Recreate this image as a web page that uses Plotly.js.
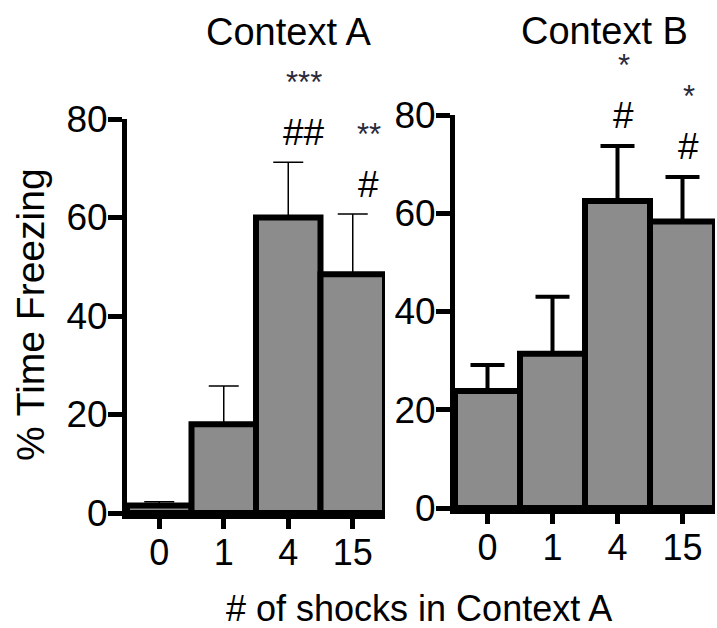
<!DOCTYPE html>
<html>
<head>
<meta charset="utf-8">
<script src="https://cdn.plot.ly/plotly-3.0.1.min.js"></script>
<style>html,body{margin:0;padding:0;background:#fff;}#chart{width:717px;height:628px;}</style>
</head>
<body>
<div id="chart"></div>
<script>
const categories = ['0', '1', '4', '15'];
const contextA = [1.5, 18, 60, 48.5];
const contextAErr = [0.8, 7.8, 11.2, 12.2];
const contextB = [23.8, 31.4, 62.5, 58.3];
const contextBErr = [5.3, 11.6, 11.2, 9.1];
const starsA = ['', '', '***', '**'];
const hashA = ['', '', '##', '#'];
const starsB = ['', '', '*', '*'];
const hashB = ['', '', '#', '#'];

const W = 717, H = 628;
const FONT = 'Liberation Sans, Arial, sans-serif';
const px = x => x / W;
const py = y => 1 - y / H;

function barTrace(vals, errs, xa, ya, thick, capw) {
  return {
    type: 'bar', x: categories, y: vals, xaxis: xa, yaxis: ya,
    width: 1, cliponaxis: false,
    marker: {color: '#8c8c8c', line: {color: '#000', width: 6}},
    error_y: {type: 'data', symmetric: false, array: errs,
      arrayminus: errs.map(() => 0), color: '#000', thickness: thick, width: capw},
    showlegend: false, hoverinfo: 'x+y'
  };
}

const data = [
  barTrace(contextA, contextAErr, 'x', 'y', 1.5, 15),
  barTrace(contextB, contextBErr, 'x2', 'y2', 4, 17)
];

const annotations = [];
function sigLabels(stars, hashes, vals, errs, xa, ya, xshift) {
  categories.forEach((c, i) => {
    const top = vals[i] + errs[i];
    if (hashes[i]) annotations.push({x: i, y: top, xref: xa, yref: ya, text: hashes[i],
      showarrow: false, xanchor: 'center', yanchor: 'middle', xshift: xshift, yshift: 30,
      font: {family: FONT, size: 37, color: '#000'}});
    if (stars[i]) annotations.push({x: i, y: top, xref: xa, yref: ya, text: stars[i],
      showarrow: false, xanchor: 'center', yanchor: 'middle', xshift: xshift, yshift: 80,
      font: {family: FONT, size: 31, color: '#2a2a3a'}});
  });
}
sigLabels(starsA, hashA, contextA, contextAErr, 'x', 'y', 16);
sigLabels(starsB, hashB, contextB, contextBErr, 'x2', 'y2', 6);

annotations.push({text: 'Context A', xref: 'paper', yref: 'paper', x: px(288), y: py(32),
  xanchor: 'center', yanchor: 'middle', showarrow: false, font: {family: FONT, size: 38, color: '#000'}});
annotations.push({text: 'Context B', xref: 'paper', yref: 'paper', x: px(604), y: py(31),
  xanchor: 'center', yanchor: 'middle', showarrow: false, font: {family: FONT, size: 38, color: '#000'}});
annotations.push({text: '# of shocks in Context A', xref: 'paper', yref: 'paper', x: px(419), y: py(608),
  xanchor: 'center', yanchor: 'middle', showarrow: false, font: {family: FONT, size: 36, color: '#000'}});
annotations.push({text: '% Time Freezing', xref: 'paper', yref: 'paper', x: px(30), y: py(315),
  xanchor: 'center', yanchor: 'middle', textangle: -90, showarrow: false,
  font: {family: FONT, size: 39, color: '#000'}});

function xAxis(domain, anchor) {
  return {domain: domain, anchor: anchor, type: 'category', range: [-0.5, 3.5],
    showline: true, linecolor: '#000', linewidth: 6, ticks: 'outside', ticklen: 10,
    tickwidth: 5, tickcolor: '#000', showgrid: false, zeroline: false, fixedrange: true,
    ticklabelstandoff: -7,
    tickfont: {family: FONT, size: 36, color: '#000'}};
}
function yAxis(domain, anchor) {
  return {domain: domain, anchor: anchor, range: [0, 80], tickvals: [0, 20, 40, 60, 80],
    showline: true, linecolor: '#000', linewidth: 5, ticks: 'outside', ticklen: 14,
    tickwidth: 5, tickcolor: '#000', showgrid: false, zeroline: false, fixedrange: true,
    ticklabelstandoff: -7,
    tickfont: {family: FONT, size: 37, color: '#000'}};
}

const layout = {
  width: W, height: H,
  margin: {l: 0, r: 0, t: 0, b: 0},
  paper_bgcolor: '#fff', plot_bgcolor: 'rgba(0,0,0,0)',
  bargap: 0,
  xaxis: xAxis([px(127), px(385)], 'y'),
  yaxis: yAxis([1 - 513 / H, 1 - 119 / H], 'x'),
  xaxis2: xAxis([px(455), px(715)], 'y2'),
  yaxis2: yAxis([1 - 508 / H, 1 - 115 / H], 'x2'),
  annotations: annotations,
  font: {family: FONT, color: '#000'}
};

Plotly.newPlot('chart', data, layout, {displayModeBar: false, staticPlot: true});
</script>
</body>
</html>
